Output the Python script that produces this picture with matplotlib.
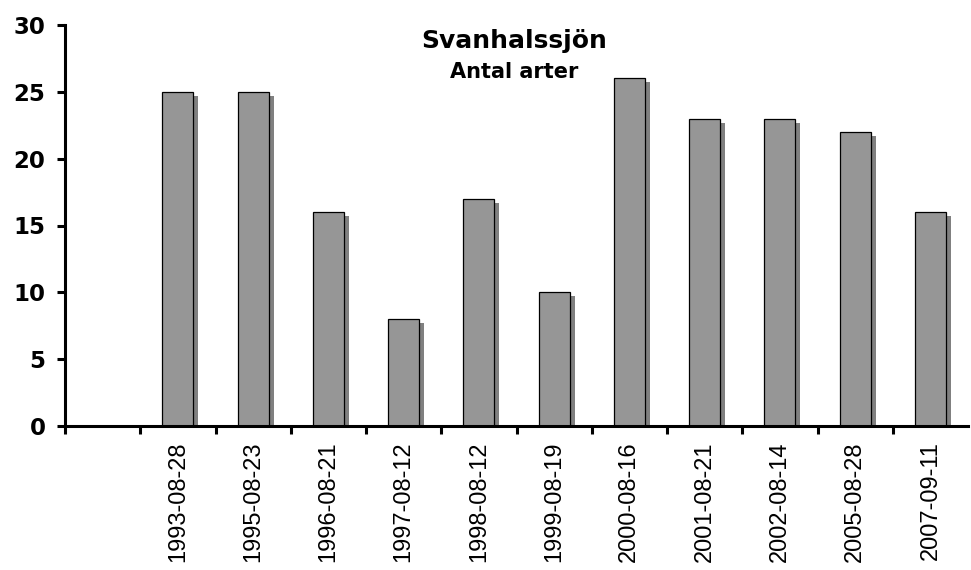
import numpy as np
import matplotlib
matplotlib.use("Agg")
import matplotlib.pyplot as plt
import matplotlib.patheffects as pe

# donnees: premiere case vide comme dans l'original
dates = ["", "1993-08-28", "1995-08-23", "1996-08-21", "1997-08-12", "1998-08-12",
         "1999-08-19", "2000-08-16", "2001-08-21", "2002-08-14", "2005-08-28", "2007-09-11"]
antal_arter = [np.nan, 25, 25, 16, 8, 17, 10, 26, 23, 23, 22, 16]
yticks = [0, 5, 10, 15, 20, 25, 30]

fig = plt.figure(figsize=(9.71, 5.70), dpi=100)
ax = fig.add_axes([65/971, 1-426/570, (968-65)/971, (426-25)/570])

x = np.arange(len(dates)) + 0.5
bars = ax.bar(x, antal_arter, width=0.41, color="#969696", edgecolor="black", linewidth=0.9)
for b in bars:
    b.set_path_effects([pe.SimplePatchShadow(offset=(3.6, -2.9), shadow_rgbFace="#808080", alpha=1.0),
                        pe.Normal()])

ax.set_xlim(0, len(dates))
ax.set_ylim(0, 30)
ax.set_yticks(yticks)
ax.set_yticklabels([str(v) for v in yticks], fontsize=16.5, fontweight="bold", family="DejaVu Sans")

# graduations entre les categories, etiquettes au centre
ax.set_xticks(np.arange(0, len(dates)))
ax.set_xticklabels([])
ax.set_xticks(x, minor=True)
ax.set_xticklabels(dates, minor=True, rotation=90, fontsize=17, family="Liberation Sans", va="top")
ax.tick_params(axis="x", which="minor", length=0, pad=11)
ax.tick_params(axis="x", which="major", direction="out", length=6, width=2.2)
ax.tick_params(axis="y", direction="out", length=6, width=2.2, pad=8)

for s in ["top", "right"]:
    ax.spines[s].set_visible(False)
for s in ["left", "bottom"]:
    ax.spines[s].set_linewidth(2.2)

fig.text(514/971, 1-48/570, "Svanhalssjön", ha="center", va="baseline",
         fontsize=18, fontweight="bold", family="DejaVu Sans")
fig.text(514/971, 1-78/570, "Antal arter", ha="center", va="baseline",
         fontsize=15, fontweight="bold", family="DejaVu Sans")

fig.savefig("out.png", dpi=100)
